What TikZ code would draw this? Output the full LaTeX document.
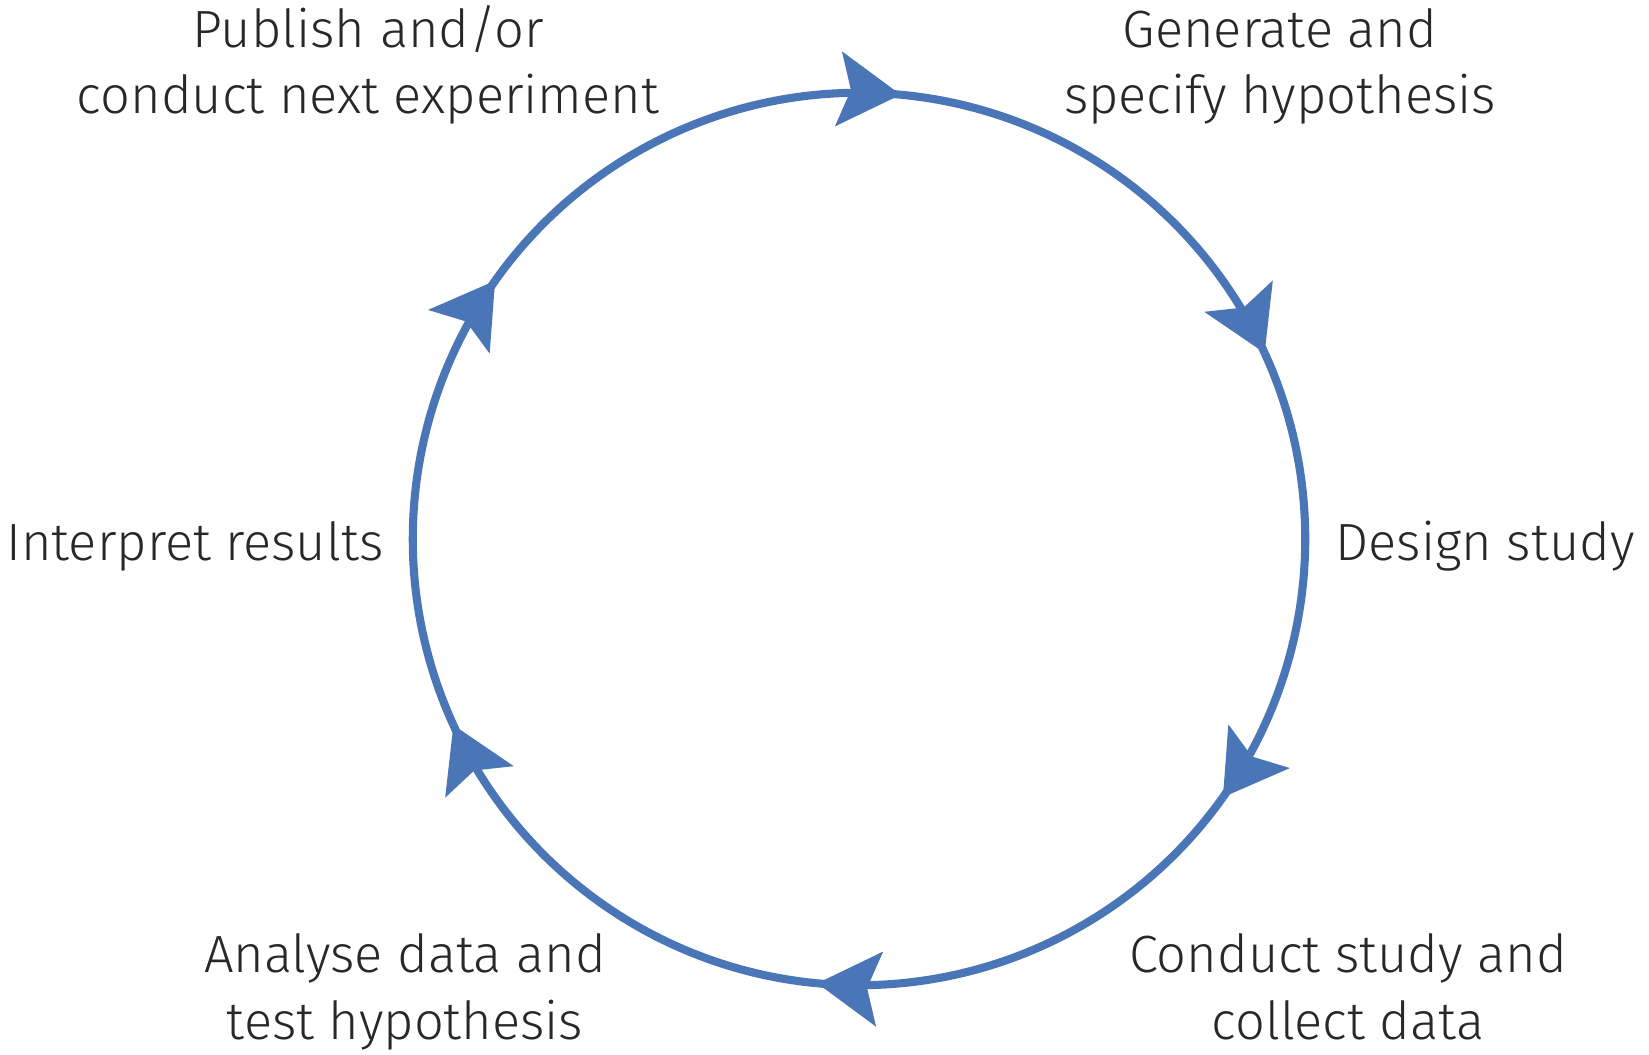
\documentclass[tikz,border=0pt]{standalone}
\usepackage{fontspec}
\setmainfont{Fira Sans}[UprightFont={* Light}]
\usetikzlibrary{arrows.meta,decorations.markings}
\definecolor{cycleblue}{RGB}{74,117,182}
\definecolor{labelgray}{RGB}{40,40,40}
\begin{document}
\begin{tikzpicture}[x=0.01cm,y=0.01cm,
  ring/.style={draw=cycleblue, line width=2.3pt},
  flow/.style={ring, postaction={decorate},
    decoration={markings, mark=at position 0.9995 with {\arrow{Stealth[length=0.62cm,width=0.74cm,inset=0.12cm]}}}},
  lab/.style={text=labelgray, font=\fontsize{14.9}{18.8}\selectfont, inner sep=0pt, align=center}]
\useasboundingbox (0,0) rectangle (1649,1054);
\coordinate (C) at (859,515);
\foreach \i/\a in {1/84.6,2/24.6,3/-35.4,4/-95.4,5/-155.4,6/144.6}
  \coordinate (a\i) at ([shift={(\a:4.46cm)}]C);
\draw[flow] (a6) arc[start angle=144.6, end angle=84.6, radius=4.46cm];
\draw[flow] (a1) arc[start angle=84.6, end angle=24.6, radius=4.46cm];
\draw[flow] (a2) arc[start angle=24.6, end angle=-35.4, radius=4.46cm];
\draw[flow] (a3) arc[start angle=-35.4, end angle=-95.4, radius=4.46cm];
\draw[flow] (a4) arc[start angle=-95.4, end angle=-155.4, radius=4.46cm];
\draw[flow] (a5) arc[start angle=-155.4, end angle=-215.4, radius=4.46cm];
\node[lab, anchor=base] (pub) at (368,940) {Publish and/or\\conduct next experiment};
\node[lab, anchor=base] (gen) at (1280,940) {Generate and\\specify hypothesis};
\node[lab, anchor=base west] (des) at (1335,494) {Design study};
\node[lab, anchor=base east] (int) at (384,494) {Interpret results};
\node[lab, anchor=base] (ana) at (405,15) {Analyse data and\\test hypothesis};
\node[lab, anchor=base] (con) at (1348,15) {Conduct study and\\collect data};
\end{tikzpicture}
\end{document}
